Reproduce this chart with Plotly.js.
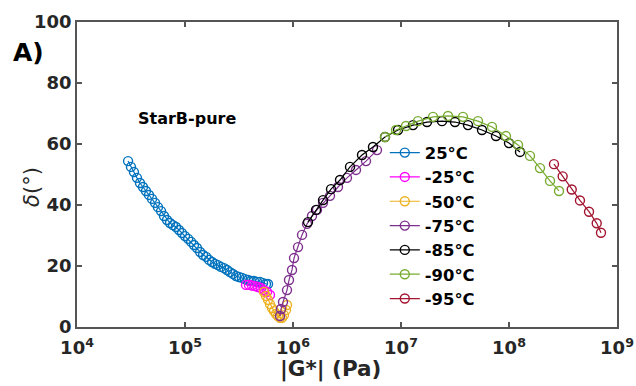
<!DOCTYPE html>
<html>
<head>
<meta charset="utf-8">
<script src="https://cdn.plot.ly/plotly-3.0.1.min.js"></script>
<style>html,body{margin:0;padding:0;background:#fff;}#chart{width:636px;height:386px;}</style>
</head>
<body>
<div id="chart"></div>
<script>
// |G*| (Pa) and phase angle delta (deg) for each temperature
const legendNames = ["25\u00B0C", "-25\u00B0C", "-50\u00B0C", "-75\u00B0C", "-85\u00B0C", "-90\u00B0C", "-95\u00B0C"];
const seriesColors = ["#0072BD", "#FF00FF", "#EDB120", "#7E2F8E", "#000000", "#77AC30", "#A2142F"];

const g25 = [2.97e4, 3.16e4, 3.37e4, 3.59e4, 3.83e4, 4.08e4, 4.35e4, 4.64e4, 4.95e4, 5.28e4, 5.62e4, 6.00e4,
  6.39e4, 6.81e4, 7.26e4, 7.74e4, 8.25e4, 8.80e4, 9.38e4, 1.00e5, 1.07e5, 1.14e5, 1.21e5, 1.29e5, 1.38e5,
  1.47e5, 1.57e5, 1.67e5, 1.78e5, 1.90e5, 2.02e5, 2.15e5, 2.30e5, 2.45e5, 2.61e5, 2.78e5, 2.97e5, 3.16e5,
  3.37e5, 3.59e5, 3.83e5, 4.08e5, 4.35e5, 4.64e5, 4.95e5, 5.28e5, 5.62e5, 5.87e5];
const d25 = [54.4, 52.5, 50.8, 48.9, 47.2, 45.9, 44.6, 43.3, 42.0, 40.7, 39.3, 38.0,
  36.4, 35.1, 34.1, 33.4, 32.8, 31.8, 30.8, 29.8, 28.9, 27.9, 26.9, 25.9, 24.6,
  23.6, 23.0, 22.0, 21.3, 20.7, 20.3, 19.7, 19.3, 18.7, 18.0, 17.4, 16.7, 16.4,
  16.1, 15.7, 15.4, 15.1, 15.1, 14.8, 14.8, 14.4, 14.1, 14.1];

const gM25 = [3.67e5, 3.91e5, 4.17e5, 4.45e5, 4.74e5, 5.06e5, 5.39e5, 5.75e5, 6.12e5];
const dM25 = [13.8, 13.8, 13.6, 13.4, 13.1, 12.8, 12.1, 11.5, 10.5];

const gM50 = [5.39e5, 5.62e5, 5.87e5, 6.12e5, 6.39e5, 6.67e5, 6.96e5, 7.26e5, 7.58e5, 7.91e5, 8.25e5, 8.61e5, 8.80e5];
const dM50 = [11.5, 10.2, 8.9, 7.5, 6.2, 5.2, 4.3, 3.6, 3.0, 3.0, 3.9, 5.6, 7.2];

const gM75 = [7.58e5, 7.74e5, 8.08e5, 8.80e5, 9.18e5, 9.79e5, 1.022e6, 1.113e6, 1.212e6, 1.348e6, 1.499e6,
  1.668e6, 1.896e6, 2.201e6, 2.610e6, 3.162e6, 3.831e6, 4.742e6, 5.995e6];
const dM75 = [3.6, 5.9, 8.2, 12.1, 15.4, 18.7, 22.6, 26.2, 30.2, 33.8, 36.4,
  38.4, 40.7, 43.0, 45.9, 48.9, 51.5, 54.4, 58.0];

const gM85 = [1.377e6, 1.633e6, 1.896e6, 2.249e6, 2.724e6, 3.372e6, 4.354e6, 5.503e6, 7.111e6, 9.380e6,
  1.292e7, 1.741e7, 2.397e7, 3.162e7, 4.173e7, 5.623e7, 7.579e7, 1.0e8, 1.264e8];
const dM85 = [34.4, 38.4, 41.6, 45.2, 48.2, 52.5, 56.4, 59.0, 62.3, 64.6,
  66.2, 67.2, 67.5, 67.2, 66.2, 64.6, 62.6, 60.3, 57.4];

const gM90 = [7.111e6, 8.989e6, 1.113e7, 1.437e7, 1.979e7, 2.724e7, 3.751e7, 5.164e7, 6.961e7, 9.380e7,
  1.212e8, 1.565e8, 1.936e8, 2.397e8, 2.904e8];
const dM90 = [62.3, 64.6, 65.9, 67.5, 68.9, 69.2, 68.9, 67.5, 65.6, 62.6,
  59.7, 56.1, 52.1, 47.9, 44.6];

const gM95 = [2.61e8, 3.14e8, 3.81e8, 4.54e8, 5.51e8, 6.49e8, 7.11e8];
const dM95 = [53.4, 49.4, 45.1, 41.5, 37.8, 34.0, 30.9];

const xTickVals = [1e4, 1e5, 1e6, 1e7, 1e8, 1e9];
const xTickText = ["10<sup>4</sup>", "10<sup>5</sup>", "10<sup>6</sup>", "10<sup>7</sup>", "10<sup>8</sup>", "10<sup>9</sup>"];
const yTickVals = [0, 20, 40, 60, 80, 100];
const yTickText = ["0", "20", "40", "60", "80", "100"];

const gSeries = [g25, gM25, gM50, gM75, gM85, gM90, gM95];
const dSeries = [d25, dM25, dM50, dM75, dM85, dM90, dM95];

const FONT = "DejaVu Sans, Arial, sans-serif";
const traces = gSeries.map((g, i) => ({
  x: g, y: dSeries[i], name: legendNames[i], type: "scatter", mode: "lines+markers",
  line: {color: seriesColors[i], width: 1.2},
  marker: {symbol: "circle-open", size: 9, color: seriesColors[i], line: {width: 1.4, color: seriesColors[i]}}
}));

const axisCommon = {
  showline: true, linecolor: "#555555", linewidth: 1.8, mirror: "ticks",
  ticks: "inside", ticklen: 5, tickwidth: 1.2, tickcolor: "#555555",
  showgrid: false, zeroline: false,
  tickfont: {family: FONT, size: 18, color: "#262626", weight: "bold"}
};

const layout = {
  width: 636, height: 386,
  margin: {l: 77, r: 19, t: 22, b: 59, pad: 0},
  paper_bgcolor: "#ffffff", plot_bgcolor: "#ffffff",
  showlegend: true,
  legend: {x: 0.57, y: 0.628, xanchor: "left", yanchor: "top", bgcolor: "rgba(0,0,0,0)",
    borderwidth: 0, itemwidth: 30, font: {family: FONT, size: 16.4, color: "#000000", weight: "bold"}},
  xaxis: Object.assign({}, axisCommon, {type: "log", range: [3.9999, 9.0001],
    tickmode: "array", tickvals: xTickVals, ticktext: xTickText, ticklabelstandoff: 4}),
  yaxis: Object.assign({}, axisCommon, {range: [0, 100], tickmode: "array", tickvals: yTickVals, ticktext: yTickText}),
  annotations: [
    {text: "A)", xref: "paper", yref: "paper", x: -0.09, y: 0.9, xanchor: "center", yanchor: "middle",
      showarrow: false, font: {family: FONT, size: 25, color: "#000000", weight: "bold"}},
    {text: "StarB-pure", xref: "paper", yref: "paper", x: 0.204, y: 0.685, xanchor: "center", yanchor: "middle",
      showarrow: false, font: {family: FONT, size: 16, color: "#000000", weight: "bold"}},
    {text: "|G*| (Pa)", xref: "paper", yref: "paper", x: 0.47, y: -0.138, xanchor: "center", yanchor: "middle",
      borderpad: 0, showarrow: false, font: {family: FONT, size: 21.5, color: "#262626", weight: "bold"}},
    {text: "<i>\u03B4</i>(\u00B0)", xref: "paper", yref: "paper", x: -0.083, y: 0.46, xanchor: "center", yanchor: "middle",
      textangle: -90, showarrow: false, font: {family: FONT, size: 21, color: "#262626"}}
  ]
};

Plotly.newPlot("chart", traces, layout, {staticPlot: true, displayModeBar: false});
</script>
</body>
</html>
